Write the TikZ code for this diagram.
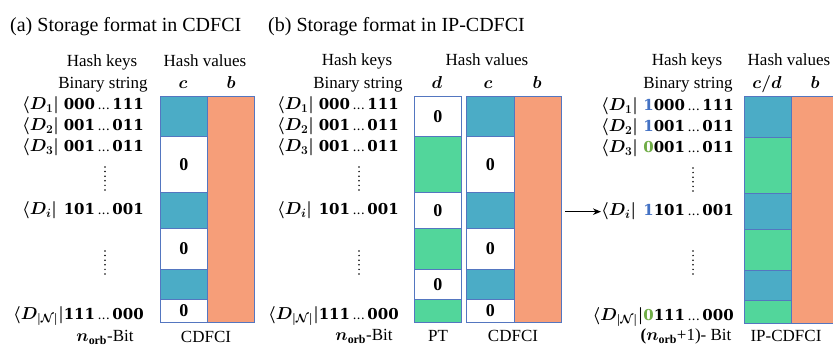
\documentclass[tikz,border=0pt]{standalone}
\usepackage{amsmath}
\usepackage{bm}
\usepackage{fontspec}
\setmainfont{Liberation Serif}
\newfontfamily\digitfont{DejaVu Serif}
\usetikzlibrary{arrows.meta}
\definecolor{cblue}{RGB}{75,172,198}
\definecolor{corange}{RGB}{246,158,121}
\definecolor{cgreen}{RGB}{82,214,155}
\definecolor{cline}{RGB}{84,118,192}
\definecolor{dblue}{RGB}{68,114,196}
\definecolor{dgreen}{RGB}{112,173,71}
\newcommand{\bitsdots}{\,{\mdseries\fontsize{13}{15}\selectfont...}\,}
\tikzset{
  cellbox/.style={draw=cline, line width=0.9pt, anchor=north west, inner sep=0pt,
    minimum width=47pt, font=\fontsize{18}{20}\selectfont\bfseries},
  bluecell/.style={cellbox, fill=cblue},
  greencell/.style={cellbox, fill=cgreen},
  whitecell/.style={cellbox, fill=white},
  orangecell/.style={cellbox, fill=corange},
  hdr/.style={font=\fontsize{17}{19}\selectfont, inner sep=0pt, anchor=base},
  colhdr/.style={font=\fontsize{18}{20}\selectfont\boldmath, inner sep=0pt, anchor=base},
  ttl/.style={font=\fontsize{20}{22}\selectfont, inner sep=0pt, anchor=base west},
  bra/.style={font=\fontsize{18}{20}\selectfont\boldmath, inner sep=0pt, anchor=base west},
  bits/.style={font=\fontsize{15}{20}\selectfont\digitfont\bfseries\boldmath, inner sep=0pt, anchor=base east},
  vdot/.style={line width=1.7pt, dash pattern=on 0pt off 4.6pt, line cap=round},
  arr/.style={line width=1.3pt, -{Stealth[length=8pt,width=6.5pt]}},
}
\begin{document}
\begin{tikzpicture}[x=1pt,y=-1pt]
\useasboundingbox (0,0) rectangle (833,347);
\fill[white] (0,0) rectangle (833,347);

% ---------------- titles
\node[ttl] (ta) at (10,32) {(a) Storage format in CDFCI};
\node[ttl] (tb) at (268,32) {(b) Storage format in IP-CDFCI};

% ================= Panel (a)
\node[hdr] (ahk) at (102,67) {Hash keys};
\node[hdr] (ahv) at (205,67) {Hash values};
\node[hdr] (abs) at (103,89) {Binary string};
\node[colhdr] (ahc) at (183,89) {$\bm{c}$};
\node[colhdr] (ahb) at (231,89) {$\bm{b}$};

\node[bluecell,  minimum height=40pt] (ac1) at (160,96) {};
\node[whitecell, minimum height=56pt] (ac2) at (160,136) {0};
\node[bluecell,  minimum height=36pt] (ac3) at (160,192) {};
\node[whitecell, minimum height=41pt] (ac4) at (160,228) {0};
\node[bluecell,  minimum height=30pt] (ac5) at (160,269) {};
\node[whitecell, minimum height=23pt] (ac6) at (160,299) {0};
\node[orangecell, minimum height=226pt] (ab) at (207,96) {};

\node[bra] (aD1) at (22,110) {$\bm{\langle D_1|}$};
\node[bits] (aB1) at (144,110) {000\bitsdots111};
\node[bra] (aD2) at (22,131) {$\bm{\langle D_2|}$};
\node[bits] (aB2) at (144,131) {001\bitsdots011};
\node[bra] (aD3) at (22,152) {$\bm{\langle D_3|}$};
\node[bits] (aB3) at (144,152) {001\bitsdots011};
\node[bra] (aDi) at (22,215) {$\bm{\langle D_i|}$};
\node[bits] (aBi) at (144,215) {101\bitsdots001};
\node[bits] (aDN) at (144,320) {{\fontsize{18}{20}\selectfont$\bm{\langle D_{|\mathcal{N}|}|}$}111\bitsdots000};
\draw[vdot] (105,167) -- (105,192);
\draw[vdot] (105,251) -- (105,276);

\node[hdr] (afa) at (105,342) {$\bm{n}_{\mathbf{orb}}$-Bit};
\node[hdr] (afb) at (206,343) {CDFCI};

% ================= Panel (b)
\node[hdr] (bhk) at (357,66) {Hash keys};
\node[hdr] (bhv) at (487,66) {Hash values};
\node[hdr] (bbs) at (358,89) {Binary string};
\node[colhdr] (bhd) at (437,89) {$\bm{d}$};
\node[colhdr] (bhc) at (488,89) {$\bm{c}$};
\node[colhdr] (bhb) at (537,89) {$\bm{b}$};

\node[whitecell, minimum height=40pt] (bd1) at (414,96) {0};
\node[greencell, minimum height=56pt] (bd2) at (414,136) {};
\node[whitecell, minimum height=36pt] (bd3) at (414,192) {0};
\node[greencell, minimum height=41pt] (bd4) at (414,228) {};
\node[whitecell, minimum height=30pt] (bd5) at (414,269) {0};
\node[greencell, minimum height=23pt] (bd6) at (414,299) {};

\node[bluecell,  minimum height=40pt, minimum width=48pt] (bc1) at (466,96) {};
\node[whitecell, minimum height=56pt, minimum width=48pt] (bc2) at (466,136) {0};
\node[bluecell,  minimum height=36pt, minimum width=48pt] (bc3) at (466,192) {};
\node[whitecell, minimum height=41pt, minimum width=48pt] (bc4) at (466,228) {0};
\node[bluecell,  minimum height=30pt, minimum width=48pt] (bc5) at (466,269) {};
\node[whitecell, minimum height=23pt, minimum width=48pt] (bc6) at (466,299) {0};
\node[orangecell, minimum height=226pt] (bb) at (514,96) {};

\node[bra] (bD1) at (277,110) {$\bm{\langle D_1|}$};
\node[bits] (bB1) at (399,110) {000\bitsdots111};
\node[bra] (bD2) at (277,131) {$\bm{\langle D_2|}$};
\node[bits] (bB2) at (399,131) {001\bitsdots011};
\node[bra] (bD3) at (277,152) {$\bm{\langle D_3|}$};
\node[bits] (bB3) at (399,152) {001\bitsdots011};
\node[bra] (bDi) at (277,215) {$\bm{\langle D_i|}$};
\node[bits] (bBi) at (399,215) {101\bitsdots001};
\node[bits] (bDN) at (399,320) {{\fontsize{18}{20}\selectfont$\bm{\langle D_{|\mathcal{N}|}|}$}111\bitsdots000};
\draw[vdot] (359,167) -- (359,192);
\draw[vdot] (359,251) -- (359,276);

\node[hdr] (bfa) at (364,341) {$\bm{n}_{\mathbf{orb}}$-Bit};
\node[hdr] (bfb) at (438,342) {PT};
\node[hdr] (bfc) at (513,342) {CDFCI};

% ================= Panel (c)
\node[hdr] (chk) at (687,66) {Hash keys};
\node[hdr] (chv) at (789,66) {Hash values};
\node[hdr] (cbs) at (688,89) {Binary string};
\node[colhdr] (chc) at (767,89) {$\bm{c/d}$};
\node[colhdr] (chb) at (815,89) {$\bm{b}$};

\node[bluecell,  minimum height=41pt] (cc1) at (744,96) {};
\node[greencell, minimum height=56pt] (cc2) at (744,137) {};
\node[bluecell,  minimum height=36pt] (cc3) at (744,193) {};
\node[greencell, minimum height=41pt] (cc4) at (744,229) {};
\node[bluecell,  minimum height=30pt] (cc5) at (744,270) {};
\node[greencell, minimum height=23pt] (cc6) at (744,300) {};
\node[orangecell, minimum height=227pt, minimum width=60pt] (cb) at (791,96) {};

\node[bra] (cD1) at (601,111) {$\bm{\langle D_1|}$};
\node[bits] (cB1) at (734,111) {\textcolor{dblue}{1}000\bitsdots111};
\node[bra] (cD2) at (601,132) {$\bm{\langle D_2|}$};
\node[bits] (cB2) at (734,132) {\textcolor{dblue}{1}001\bitsdots011};
\node[bra] (cD3) at (601,153) {$\bm{\langle D_3|}$};
\node[bits] (cB3) at (734,153) {\textcolor{dgreen}{0}001\bitsdots011};
\node[bra] (cDi) at (601,216) {$\bm{\langle D_i|}$};
\node[bits] (cBi) at (734,216) {\textcolor{dblue}{1}101\bitsdots001};
\node[bits] (cDN) at (734,321) {{\fontsize{18}{20}\selectfont$\bm{\langle D_{|\mathcal{N}|}|}$}\textcolor{dgreen}{0}111\bitsdots000};
\draw[vdot] (693,168) -- (693,193);
\draw[vdot] (693,251) -- (693,277);

\node[hdr] (cfa) at (686,341) {\textbf{(}$\bm{n}_{\mathbf{orb}}$+1)- Bit};
\node[hdr] (cfb) at (786,342) {IP-CDFCI};

% arrow
\coordinate (arrS) at (565,211);
\draw[arr] (arrS |- cDi.west) -- (cDi.west);
\end{tikzpicture}
\end{document}
